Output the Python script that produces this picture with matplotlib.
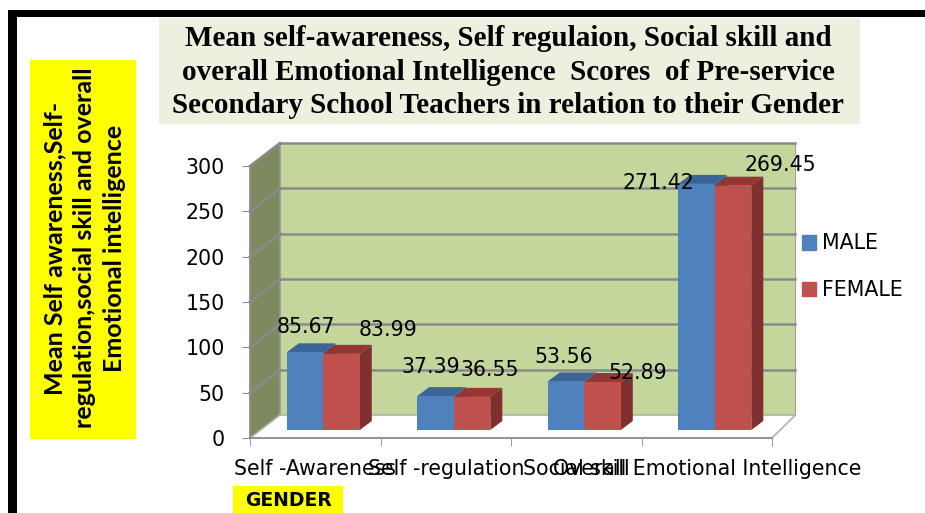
import matplotlib
matplotlib.use("Agg")
import matplotlib.pyplot as plt
from matplotlib.patches import Polygon, Rectangle, Patch

# data
categories = ["Self -Awareness", "Self -regulation", "Social skill",
              "Overall Emotional Intelligence"]
male = [85.67, 37.39, 53.56, 271.42]
female = [83.99, 36.55, 52.89, 269.45]
series_names = ["MALE", "FEMALE"]
yticks = [0, 50, 100, 150, 200, 250, 300]

title = ("Mean self-awareness, Self regulaion, Social skill and\n"
         "overall Emotional Intelligence  Scores  of Pre-service\n"
         "Secondary School Teachers in relation to their Gender")
ylabel = ("Mean Self awareness,Self-\n"
          "regulation,social skill and overall\n"
          "Emotional intelligence")

# label nudges (pixels) to mimic Excel's 3D label placement
male_off = [(1, 25), (-5, 29), (-2, 24), (-38, 1)]
female_off = [(47, 24), (18, 27), (35, 9), (47, 21)]

W, H = 925, 513
fig = plt.figure(figsize=(W / 100, H / 100), dpi=100)
plt.rcParams['font.family'] = ['DejaVu Sans']
fs = 14.8

# axes placed so the front axis runs 250..772 px and 0..300 -> 438..166 px
ax = fig.add_axes([250 / W, (H - 438) / H, (772 - 250) / W, (438 - 166) / H])
ax.set_xlim(-0.5, 3.5)
ax.set_ylim(0, 300)
pxx = 4 / (772 - 250)     # data units per pixel in x
pxy = 300 / (438 - 166)   # data units per pixel in y

# 3D offsets
wx, wy = 30 * pxx, 23 * pxy      # back wall depth
bx, by = 8 * pxx, 8 * pxy        # bar placement depth
dx, dy = 12 * pxx, 9 * pxy       # bar depth
bw = 0.28

grid_c = "#8a8a8a"
# back wall
ax.add_patch(Rectangle((-0.5 + wx, wy), 4 - 0.05, 300, fc="#c3d69b",
                       ec="#a0a0a0", lw=0.8, clip_on=False, zorder=0))
# left wall
ax.add_patch(Polygon([(-0.5, 0), (-0.5 + wx, wy), (-0.5 + wx, 300 + wy),
                      (-0.5, 300)], closed=True, fc="#7d8a5f", ec="#a0a0a0",
                     lw=0.8, clip_on=False, zorder=0))
# floor
ax.add_patch(Polygon([(-0.5, 0), (3.5, 0), (3.45 + wx, wy), (-0.5 + wx, wy)],
                     closed=True, fc="white", ec="#b0b0b0", lw=1.2,
                     clip_on=False, zorder=0.5))
for v in yticks[1:]:
    ax.plot([-0.5 + wx, 3.45 + wx], [v + wy, v + wy], color=grid_c, lw=1.8,
            clip_on=False, zorder=0.6)
    ax.plot([-0.5, -0.5 + wx], [v, v + wy], color=grid_c, lw=1.8,
            clip_on=False, zorder=0.6)


def bar3d(x0, h, side, top, z):
    y0 = by
    ax.add_patch(Polygon([(x0 + bw, y0), (x0 + bw + dx, y0 + dy),
                          (x0 + bw + dx, y0 + h + dy), (x0 + bw, y0 + h)],
                         closed=True, fc=side, ec="none", zorder=z, clip_on=False))
    ax.add_patch(Polygon([(x0, y0 + h), (x0 + bw, y0 + h),
                          (x0 + bw + dx, y0 + h + dy), (x0 + dx, y0 + h + dy)],
                         closed=True, fc=top, ec="none", zorder=z, clip_on=False))


xs = list(range(len(categories)))
for i in xs:
    bar3d(i + bx - bw, male[i], "#385d8a", "#3c6596", 2)
    bar3d(i + bx, female[i], "#7f2f2d", "#943634", 3)
bm = ax.bar([i + bx - bw / 2 for i in xs], male, width=bw, bottom=by,
            color="#4f81bd", zorder=2.5, clip_on=False)
bf = ax.bar([i + bx + bw / 2 for i in xs], female, width=bw, bottom=by,
            color="#c0504d", zorder=3.5, clip_on=False)

for bars, vals, offs in [(bm, male, male_off), (bf, female, female_off)]:
    for b, v, (ox, oy) in zip(bars, vals, offs):
        ax.annotate(f"{v:.2f}", (b.get_x() + b.get_width() / 2, by + v),
                    xytext=(ox * 0.72, oy * 0.72), textcoords="offset points",
                    ha="center", va="center", fontsize=fs, zorder=5)

# axes styling
for s in ["top", "right"]:
    ax.spines[s].set_visible(False)
for s in ["left", "bottom"]:
    ax.spines[s].set_color("#8c8c8c")
    ax.spines[s].set_linewidth(1.2)
ax.patch.set_visible(False)
ax.set_yticks(yticks)
ax.tick_params(axis="y", length=6, color="#8c8c8c", labelsize=fs, pad=12)
ax.set_xticks(xs)
ax.set_xticklabels(categories, fontsize=fs)
ax.set_xticks([-0.5, 0.5, 1.5, 2.5, 3.5], minor=True)
ax.tick_params(axis="x", which="major", length=0, pad=15)
ax.tick_params(axis="x", which="minor", length=6, color="#8c8c8c")

# legend
fig.legend([Patch(color="#4f81bd"), Patch(color="#c0504d")], series_names,
           loc="upper left", bbox_to_anchor=(783 / W, 1 - 215 / H),
           frameon=False, fontsize=fs, handlelength=0.72, handleheight=0.72,
           handletextpad=0.3, labelspacing=1.3)

# frame, title box, yellow labels
fig.patches.append(Rectangle((8 / W, 0), 9 / W, 1 - 10 / H, fc="black",
                             transform=fig.transFigure, zorder=0))
fig.patches.append(Rectangle((8 / W, 1 - 17 / H), 1, 7 / H, fc="black",
                             transform=fig.transFigure, zorder=0))
fig.patches.append(Rectangle((159 / W, 1 - 124 / H), 701 / W, 106 / H,
                             fc="#ebf1de", transform=fig.transFigure, zorder=0))
fig.text(508 / W, 1 - 72 / H, title, ha="center", va="center",
         family="Liberation Serif", weight="bold", fontsize=21,
         linespacing=1.3)
fig.patches.append(Rectangle((30 / W, 1 - 439 / H), 106 / W, 379 / H,
                             fc="#ffff00", transform=fig.transFigure, zorder=0))
fig.text(85 / W, 1 - 248 / H, ylabel, rotation=90, ha="center", va="center",
         family=["Lato", "DejaVu Sans"], weight="bold", fontsize=18,
         linespacing=1.35)
fig.patches.append(Rectangle((233 / W, 0), 110 / W, 27 / H, fc="#ffff00",
                             transform=fig.transFigure, zorder=0))
fig.text(288 / W, 1 - 500 / H, "GENDER", ha="center", va="center",
         weight="bold", fontsize=13.5)

fig.savefig("out.png", dpi=100)
